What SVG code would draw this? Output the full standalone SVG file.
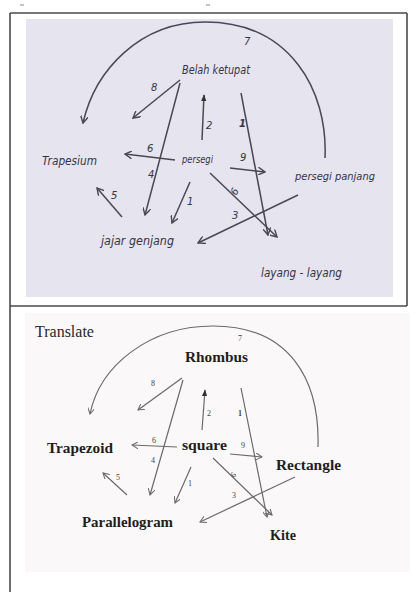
<svg xmlns="http://www.w3.org/2000/svg" width="419" height="592" viewBox="0 0 419 592">
<style>
.frame{stroke:#4a4a4a;stroke-width:1.6;fill:none}
.hw{font-family:"DejaVu Sans",sans-serif;font-style:italic;fill:#353543}
.hwn{font-family:"DejaVu Sans",sans-serif;font-style:italic;fill:#353543;font-size:10px}
.tl{stroke:#484856;stroke-width:1.5;fill:none}
.bl{stroke:#6a6a6e;stroke-width:1.2;fill:none}
.bt{font-family:"Liberation Serif",serif;font-weight:bold;font-size:15px;fill:#1e1e1e}
.bn{font-family:"Liberation Serif",serif;font-size:8px;fill:#444}
</style>
<defs>
<marker id="ah" viewBox="0 0 8 8" refX="7" refY="4" markerWidth="8" markerHeight="8" markerUnits="userSpaceOnUse" orient="auto">
<path d="M0,0 L7,4 L0,8" fill="none" stroke="#484856" stroke-width="1.4"/>
</marker>
<marker id="ahb" viewBox="0 0 8 8" refX="7" refY="4" markerWidth="7" markerHeight="7" markerUnits="userSpaceOnUse" orient="auto">
<path d="M0,0 L7,4 L0,8" fill="none" stroke="#6a6a6e" stroke-width="1.2"/>
</marker>
<marker id="ahf" viewBox="0 0 8 8" refX="7" refY="4" markerWidth="7" markerHeight="7" markerUnits="userSpaceOnUse" orient="auto">
<path d="M0,1 L8,4 L0,7 Z" fill="#333"/>
</marker>
</defs>
<rect width="419" height="592" fill="#ffffff"/>
<line x1="20" y1="5" x2="24" y2="5" stroke="#888" stroke-width="1"/>
<line x1="206" y1="5" x2="210" y2="5" stroke="#888" stroke-width="1"/>
<g id="frame">
<rect x="26" y="19" width="367" height="278" fill="#e5e4ef"/>
<rect x="25" y="313" width="385" height="259" fill="#faf8f8"/>
<line class="frame" x1="10" y1="13" x2="407" y2="13"/>
<line class="frame" x1="10" y1="13" x2="10" y2="592"/>
<line class="frame" x1="407" y1="13" x2="407" y2="306"/>
<line class="frame" x1="10" y1="306" x2="407" y2="306"/>
</g>
<g id="top-connectors">
<path class="tl" d="M325,158 C328,90 290,22 205,22 C140,22 95,70 83,123" marker-end="url(#ah)"/>
<line class="tl" x1="180" y1="80" x2="133" y2="118" marker-end="url(#ah)"/>
<line class="tl" x1="180" y1="83" x2="145" y2="215" marker-end="url(#ah)"/>
<line class="tl" x1="202" y1="140" x2="204" y2="95" marker-end="url(#ahf)"/>
<line class="tl" x1="241" y1="93" x2="268" y2="235" marker-end="url(#ah)"/>
<line class="tl" x1="175" y1="160" x2="125" y2="154" marker-end="url(#ah)"/>
<line class="tl" x1="230" y1="168" x2="265" y2="172" marker-end="url(#ah)"/>
<line class="tl" x1="210" y1="173" x2="277" y2="237" marker-end="url(#ah)"/>
<line class="tl" x1="298" y1="195" x2="198" y2="243" marker-end="url(#ah)"/>
<line class="tl" x1="190" y1="182" x2="172" y2="223" marker-end="url(#ah)"/>
<line class="tl" x1="122" y1="217" x2="97" y2="188" marker-end="url(#ah)"/>
<text class="hwn" x="244" y="45">7</text>
<text class="hwn" x="151" y="91">8</text>
<text class="hwn" x="148" y="178">4</text>
<text class="hwn" x="206" y="129">2</text>
<text class="hwn" x="239" y="127" font-weight="bold">1</text>
<text class="hwn" x="147" y="152">6</text>
<text class="hwn" x="240" y="161">9</text>
<text class="hwn" transform="translate(236,196) rotate(-60)">6</text>
<text class="hwn" x="232" y="219">3</text>
<text class="hwn" x="187" y="205">1</text>
<text class="hwn" x="111" y="199">5</text>
</g>
<g id="n-belah"><text class="hw" x="182" y="74" font-size="12" textLength="68" lengthAdjust="spacingAndGlyphs">Belah ketupat</text></g>
<g id="n-persegi"><text class="hw" x="182" y="163" font-size="11" textLength="31" lengthAdjust="spacingAndGlyphs">persegi</text></g>
<g id="n-trapesium"><text class="hw" x="42" y="165" font-size="13" textLength="55" lengthAdjust="spacingAndGlyphs">Trapesium</text></g>
<g id="n-jajar"><text class="hw" x="101" y="245" font-size="12" textLength="73" lengthAdjust="spacingAndGlyphs">jajar genjang</text></g>
<g id="n-pp"><text class="hw" x="295" y="180" font-size="11" textLength="80" lengthAdjust="spacingAndGlyphs">persegi panjang</text></g>
<g id="n-layang"><text class="hw" x="261" y="277" font-size="13" textLength="81" lengthAdjust="spacingAndGlyphs">layang - layang</text></g>
<g id="translate-label"><text x="35" y="337" font-family="Liberation Serif, serif" font-size="16" fill="#2a2a2a">Translate</text></g>
<g id="bottom-connectors">
<path class="bl" d="M318,447 C320,380 290,326 213,326 C150,326 100,365 90,414" marker-end="url(#ahb)"/>
<line class="bl" x1="182" y1="378" x2="138" y2="410" marker-end="url(#ahb)" stroke-width="1.5" stroke="#555"/>
<line class="bl" x1="183" y1="380" x2="150" y2="495" marker-end="url(#ahb)"/>
<line class="bl" x1="202" y1="430" x2="205" y2="390" marker-end="url(#ahf)"/>
<line class="bl" x1="241" y1="388" x2="267" y2="517" marker-end="url(#ahb)"/>
<line class="bl" x1="177" y1="447" x2="132" y2="445" marker-end="url(#ahb)" stroke="#444"/>
<line class="bl" x1="230" y1="454" x2="262" y2="457" marker-end="url(#ahb)" stroke="#444"/>
<line class="bl" x1="213" y1="458" x2="272" y2="515" marker-end="url(#ahb)" stroke="#555"/>
<line class="bl" x1="295" y1="477" x2="200" y2="522" marker-end="url(#ahb)"/>
<line class="bl" x1="191" y1="467" x2="175" y2="503" marker-end="url(#ahb)"/>
<line class="bl" x1="127" y1="495" x2="103" y2="473" marker-end="url(#ahb)"/>
<text class="bn" x="238" y="341">7</text>
<text class="bn" x="151" y="386">8</text>
<text class="bn" x="151" y="463">4</text>
<text class="bn" x="207" y="416">2</text>
<text class="bn" x="238" y="416" font-weight="bold">1</text>
<text class="bn" x="152" y="443">6</text>
<text class="bn" x="241" y="448">9</text>
<text class="bn" transform="translate(234,478) rotate(-50)">6</text>
<text class="bn" x="232" y="498">3</text>
<text class="bn" x="188" y="486">1</text>
<text class="bn" x="116" y="480">5</text>
</g>
<g id="n-rhombus"><text class="bt" x="185" y="362" textLength="63" lengthAdjust="spacingAndGlyphs">Rhombus</text></g>
<g id="n-square"><text class="bt" x="182" y="450" textLength="45" lengthAdjust="spacingAndGlyphs">square</text></g>
<g id="n-trapezoid"><text class="bt" x="47" y="453" textLength="66" lengthAdjust="spacingAndGlyphs">Trapezoid</text></g>
<g id="n-rectangle"><text class="bt" x="276" y="470" textLength="65" lengthAdjust="spacingAndGlyphs">Rectangle</text></g>
<g id="n-parallelogram"><text class="bt" x="82" y="527" textLength="91" lengthAdjust="spacingAndGlyphs">Parallelogram</text></g>
<g id="n-kite"><text class="bt" x="270" y="540" textLength="26" lengthAdjust="spacingAndGlyphs">Kite</text></g>
</svg>
